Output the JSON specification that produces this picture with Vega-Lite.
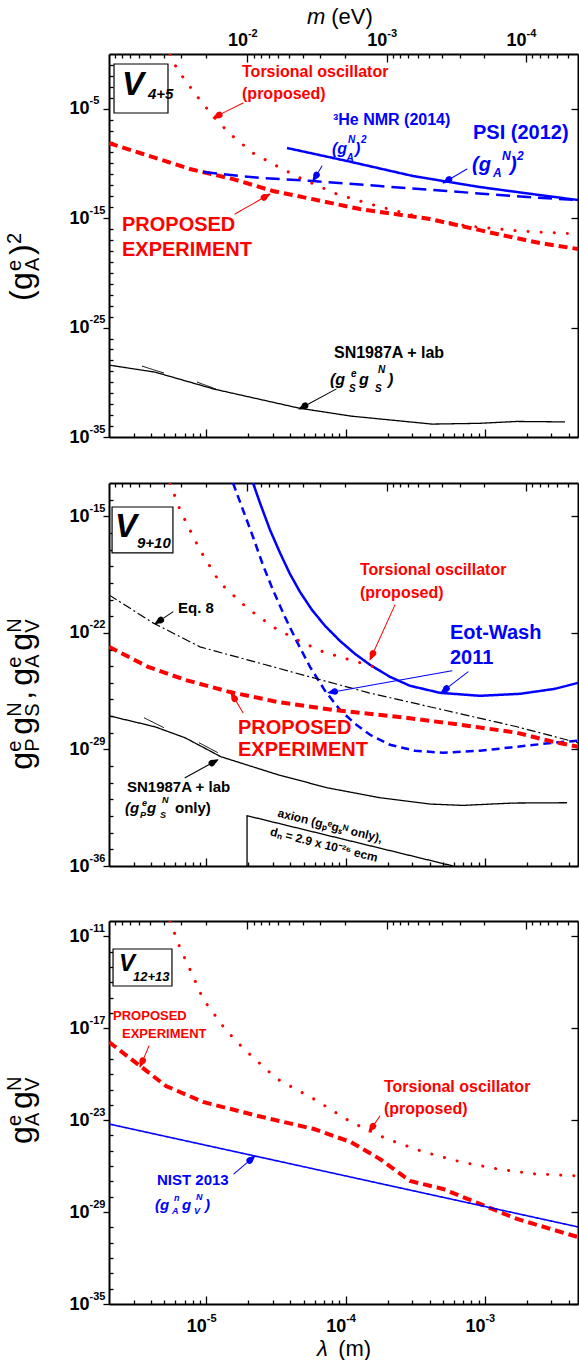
{
  "$schema": "https://vega.github.io/schema/vega-lite/v6.json",
  "background": "white",
  "padding": {"left": 5, "top": 5, "right": 0, "bottom": 0},
  "config": {
    "view": {"stroke": null},
    "axis": {"grid": false, "domainColor": "#000000", "domainWidth": 2, "tickColor": "#000000", "tickWidth": 1.3, "labelColor": "#000000", "labelFont": "Liberation Sans", "labelFontWeight": "bold", "labelFlush": false, "labelOverlap": false, "labelBound": false}
  },
  "datasets": {
    "curves": [
      {"p":1,"s":"torsional","id":"p1t","lx":-5.261,"ly":0},{"p":1,"s":"torsional","id":"p1t","lx":-5.211,"ly":-1.371},{"p":1,"s":"torsional","id":"p1t","lx":-5.132,"ly":-2.742},{"p":1,"s":"torsional","id":"p1t","lx":-5.046,"ly":-4.205},{"p":1,"s":"torsional","id":"p1t","lx":-4.952,"ly":-5.67},{"p":1,"s":"torsional","id":"p1t","lx":-4.83,"ly":-7.31},{"p":1,"s":"torsional","id":"p1t","lx":-4.665,"ly":-9.05},{"p":1,"s":"torsional","id":"p1t","lx":-4.493,"ly":-10.24},{"p":1,"s":"torsional","id":"p1t","lx":-4.328,"ly":-11.33},{"p":1,"s":"torsional","id":"p1t","lx":-4.062,"ly":-12.8},{"p":1,"s":"torsional","id":"p1t","lx":-3.775,"ly":-13.89},{"p":1,"s":"torsional","id":"p1t","lx":-3.466,"ly":-14.9},{"p":1,"s":"torsional","id":"p1t","lx":-3.129,"ly":-15.72},{"p":1,"s":"torsional","id":"p1t","lx":-2.749,"ly":-16.18},{"p":1,"s":"torsional","id":"p1t","lx":-2.332,"ly":-16.45},
      {"p":1,"s":"proposed","id":"p1p","lx":-5.699,"ly":-8.14},{"p":1,"s":"proposed","id":"p1p","lx":-5.455,"ly":-9.14},{"p":1,"s":"proposed","id":"p1p","lx":-5.118,"ly":-10.51},{"p":1,"s":"proposed","id":"p1p","lx":-4.809,"ly":-11.43},{"p":1,"s":"proposed","id":"p1p","lx":-4.522,"ly":-12.52},{"p":1,"s":"proposed","id":"p1p","lx":-4.278,"ly":-13.16},{"p":1,"s":"proposed","id":"p1p","lx":-3.897,"ly":-14.17},{"p":1,"s":"proposed","id":"p1p","lx":-3.395,"ly":-15.08},{"p":1,"s":"proposed","id":"p1p","lx":-2.914,"ly":-16.45},{"p":1,"s":"proposed","id":"p1p","lx":-2.605,"ly":-17.28},{"p":1,"s":"proposed","id":"p1p","lx":-2.332,"ly":-17.82},
      {"p":1,"s":"nmr","id":"p1n","lx":-5.024,"ly":-10.79},{"p":1,"s":"nmr","id":"p1n","lx":-4.615,"ly":-11.33},{"p":1,"s":"nmr","id":"p1n","lx":-4.235,"ly":-11.61},{"p":1,"s":"nmr","id":"p1n","lx":-3.754,"ly":-12.07},{"p":1,"s":"nmr","id":"p1n","lx":-3.273,"ly":-12.52},{"p":1,"s":"nmr","id":"p1n","lx":-2.799,"ly":-12.98},{"p":1,"s":"nmr","id":"p1n","lx":-2.332,"ly":-13.36},
      {"p":1,"s":"psi","id":"p1s","lx":-4.421,"ly":-8.59},{"p":1,"s":"psi","id":"p1s","lx":-3.99,"ly":-9.78},{"p":1,"s":"psi","id":"p1s","lx":-3.517,"ly":-11.15},{"p":1,"s":"psi","id":"p1s","lx":-3.036,"ly":-12.16},{"p":1,"s":"psi","id":"p1s","lx":-2.555,"ly":-12.98},{"p":1,"s":"psi","id":"p1s","lx":-2.332,"ly":-13.34},
      {"p":1,"s":"sn","id":"p1sn","lx":-5.699,"ly":-28.43},{"p":1,"s":"sn","id":"p1sn","lx":-5.369,"ly":-29.07},{"p":1,"s":"sn","id":"p1sn","lx":-4.945,"ly":-30.62},{"p":1,"s":"sn","id":"p1sn","lx":-4.335,"ly":-32.36},{"p":1,"s":"sn","id":"p1sn","lx":-3.962,"ly":-33.09},{"p":1,"s":"sn","id":"p1sn","lx":-3.38,"ly":-33.82},{"p":1,"s":"sn","id":"p1sn","lx":-3.036,"ly":-33.75},{"p":1,"s":"sn","id":"p1sn","lx":-2.77,"ly":-33.58},{"p":1,"s":"sn","id":"p1sn","lx":-2.425,"ly":-33.62},
      {"p":1,"s":"fold","id":"p1f1","lx":-5.462,"ly":-28.52},{"p":1,"s":"fold","id":"p1f1","lx":-5.304,"ly":-29.16},
      {"p":1,"s":"fold","id":"p1f2","lx":-5.067,"ly":-29.98},{"p":1,"s":"fold","id":"p1f2","lx":-4.931,"ly":-30.62},
      {"p":2,"s":"torsional","id":"p2t","lx":-5.261,"ly":-13.0},{"p":2,"s":"torsional","id":"p2t","lx":-5.189,"ly":-14.62},{"p":2,"s":"torsional","id":"p2t","lx":-5.118,"ly":-15.82},{"p":2,"s":"torsional","id":"p2t","lx":-5.046,"ly":-17.02},{"p":2,"s":"torsional","id":"p2t","lx":-4.902,"ly":-19.0},{"p":2,"s":"torsional","id":"p2t","lx":-4.708,"ly":-20.5},{"p":2,"s":"torsional","id":"p2t","lx":-4.522,"ly":-21.64},{"p":2,"s":"torsional","id":"p2t","lx":-4.349,"ly":-22.42},{"p":2,"s":"torsional","id":"p2t","lx":-4.163,"ly":-23.14},{"p":2,"s":"torsional","id":"p2t","lx":-3.969,"ly":-23.62},{"p":2,"s":"torsional","id":"p2t","lx":-3.768,"ly":-24.1},
      {"p":2,"s":"ew_dash","id":"p2ed","lx":-4.809,"ly":-13.0},{"p":2,"s":"ew_dash","id":"p2ed","lx":-4.737,"ly":-14.62},{"p":2,"s":"ew_dash","id":"p2ed","lx":-4.665,"ly":-16.24},{"p":2,"s":"ew_dash","id":"p2ed","lx":-4.594,"ly":-17.919},{"p":2,"s":"ew_dash","id":"p2ed","lx":-4.522,"ly":-19.419},{"p":2,"s":"ew_dash","id":"p2ed","lx":-4.436,"ly":-21.039},{"p":2,"s":"ew_dash","id":"p2ed","lx":-4.349,"ly":-22.539},{"p":2,"s":"ew_dash","id":"p2ed","lx":-4.256,"ly":-24.039},{"p":2,"s":"ew_dash","id":"p2ed","lx":-4.148,"ly":-25.479},{"p":2,"s":"ew_dash","id":"p2ed","lx":-4.041,"ly":-26.619},{"p":2,"s":"ew_dash","id":"p2ed","lx":-3.933,"ly":-27.459},{"p":2,"s":"ew_dash","id":"p2ed","lx":-3.825,"ly":-28.119},{"p":2,"s":"ew_dash","id":"p2ed","lx":-3.682,"ly":-28.719},{"p":2,"s":"ew_dash","id":"p2ed","lx":-3.502,"ly":-29.079},{"p":2,"s":"ew_dash","id":"p2ed","lx":-3.301,"ly":-29.199},{"p":2,"s":"ew_dash","id":"p2ed","lx":-3.036,"ly":-29.079},{"p":2,"s":"ew_dash","id":"p2ed","lx":-2.77,"ly":-28.839},{"p":2,"s":"ew_dash","id":"p2ed","lx":-2.512,"ly":-28.599},{"p":2,"s":"ew_dash","id":"p2ed","lx":-2.332,"ly":-28.479},
      {"p":2,"s":"ew_solid","id":"p2es","lx":-4.665,"ly":-13.0},{"p":2,"s":"ew_solid","id":"p2es","lx":-4.615,"ly":-14.2},{"p":2,"s":"ew_solid","id":"p2es","lx":-4.543,"ly":-15.82},{"p":2,"s":"ew_solid","id":"p2es","lx":-4.471,"ly":-17.2},{"p":2,"s":"ew_solid","id":"p2es","lx":-4.4,"ly":-18.46},{"p":2,"s":"ew_solid","id":"p2es","lx":-4.328,"ly":-19.54},{"p":2,"s":"ew_solid","id":"p2es","lx":-4.242,"ly":-20.62},{"p":2,"s":"ew_solid","id":"p2es","lx":-4.148,"ly":-21.58},{"p":2,"s":"ew_solid","id":"p2es","lx":-4.041,"ly":-22.48},{"p":2,"s":"ew_solid","id":"p2es","lx":-3.933,"ly":-23.26},{"p":2,"s":"ew_solid","id":"p2es","lx":-3.825,"ly":-23.92},{"p":2,"s":"ew_solid","id":"p2es","lx":-3.682,"ly":-24.64},{"p":2,"s":"ew_solid","id":"p2es","lx":-3.538,"ly":-25.18},{"p":2,"s":"ew_solid","id":"p2es","lx":-3.323,"ly":-25.6},{"p":2,"s":"ew_solid","id":"p2es","lx":-3.036,"ly":-25.78},{"p":2,"s":"ew_solid","id":"p2es","lx":-2.749,"ly":-25.66},{"p":2,"s":"ew_solid","id":"p2es","lx":-2.497,"ly":-25.36},{"p":2,"s":"ew_solid","id":"p2es","lx":-2.332,"ly":-25.0},
      {"p":2,"s":"eq8","id":"p2q","lx":-5.699,"ly":-19.72},{"p":2,"s":"eq8","id":"p2q","lx":-5.383,"ly":-21.4},{"p":2,"s":"eq8","id":"p2q","lx":-5.046,"ly":-22.84},{"p":2,"s":"eq8","id":"p2q","lx":-4.364,"ly":-24.4},{"p":2,"s":"eq8","id":"p2q","lx":-3.833,"ly":-25.6},{"p":2,"s":"eq8","id":"p2q","lx":-3.301,"ly":-26.62},{"p":2,"s":"eq8","id":"p2q","lx":-2.77,"ly":-27.64},{"p":2,"s":"eq8","id":"p2q","lx":-2.332,"ly":-28.6},
      {"p":2,"s":"proposed","id":"p2p","lx":-5.699,"ly":-22.84},{"p":2,"s":"proposed","id":"p2p","lx":-5.419,"ly":-24.04},{"p":2,"s":"proposed","id":"p2p","lx":-5.153,"ly":-24.82},{"p":2,"s":"proposed","id":"p2p","lx":-4.837,"ly":-25.54},{"p":2,"s":"proposed","id":"p2p","lx":-4.493,"ly":-26.14},{"p":2,"s":"proposed","id":"p2p","lx":-4.098,"ly":-26.62},{"p":2,"s":"proposed","id":"p2p","lx":-3.567,"ly":-27.1},{"p":2,"s":"proposed","id":"p2p","lx":-3.172,"ly":-27.52},{"p":2,"s":"proposed","id":"p2p","lx":-2.77,"ly":-28.0},{"p":2,"s":"proposed","id":"p2p","lx":-2.512,"ly":-28.54},{"p":2,"s":"proposed","id":"p2p","lx":-2.332,"ly":-28.84},
      {"p":2,"s":"sn","id":"p2sn","lx":-5.699,"ly":-26.98},{"p":2,"s":"sn","id":"p2sn","lx":-5.369,"ly":-27.64},{"p":2,"s":"sn","id":"p2sn","lx":-5.153,"ly":-28.3},{"p":2,"s":"sn","id":"p2sn","lx":-4.895,"ly":-29.44},{"p":2,"s":"sn","id":"p2sn","lx":-4.493,"ly":-30.5},{"p":2,"s":"sn","id":"p2sn","lx":-4.134,"ly":-31.3},{"p":2,"s":"sn","id":"p2sn","lx":-3.754,"ly":-31.9},{"p":2,"s":"sn","id":"p2sn","lx":-3.395,"ly":-32.28},{"p":2,"s":"sn","id":"p2sn","lx":-3.158,"ly":-32.36},{"p":2,"s":"sn","id":"p2sn","lx":-2.799,"ly":-32.22},{"p":2,"s":"sn","id":"p2sn","lx":-2.411,"ly":-32.2},
      {"p":2,"s":"fold","id":"p2f1","lx":-5.448,"ly":-27.097},{"p":2,"s":"fold","id":"p2f1","lx":-5.304,"ly":-27.697},
      {"p":2,"s":"fold","id":"p2f2","lx":-5.053,"ly":-28.597},{"p":2,"s":"fold","id":"p2f2","lx":-4.917,"ly":-29.197},
      {"p":2,"s":"axion","id":"p2a","lx":-4.708,"ly":-36.0},{"p":2,"s":"axion","id":"p2a","lx":-4.708,"ly":-32.98},{"p":2,"s":"axion","id":"p2a","lx":-3.229,"ly":-36.0},
      {"p":3,"s":"torsional","id":"p3t","lx":-5.261,"ly":-10.0},{"p":3,"s":"torsional","id":"p3t","lx":-5.189,"ly":-11.76},{"p":3,"s":"torsional","id":"p3t","lx":-5.103,"ly":-13.46},{"p":3,"s":"torsional","id":"p3t","lx":-5.024,"ly":-15.09},{"p":3,"s":"torsional","id":"p3t","lx":-4.866,"ly":-17.05},{"p":3,"s":"torsional","id":"p3t","lx":-4.73,"ly":-18.36},{"p":3,"s":"torsional","id":"p3t","lx":-4.493,"ly":-20.31},{"p":3,"s":"torsional","id":"p3t","lx":-4.227,"ly":-21.62},{"p":3,"s":"torsional","id":"p3t","lx":-3.962,"ly":-23.12},{"p":3,"s":"torsional","id":"p3t","lx":-3.703,"ly":-24.23},{"p":3,"s":"torsional","id":"p3t","lx":-3.438,"ly":-25.08},{"p":3,"s":"torsional","id":"p3t","lx":-3.172,"ly":-25.73},{"p":3,"s":"torsional","id":"p3t","lx":-2.907,"ly":-26.19},{"p":3,"s":"torsional","id":"p3t","lx":-2.641,"ly":-26.51},{"p":3,"s":"torsional","id":"p3t","lx":-2.332,"ly":-26.64},
      {"p":3,"s":"proposed","id":"p3p","lx":-5.699,"ly":-17.9},{"p":3,"s":"proposed","id":"p3p","lx":-5.476,"ly":-19.46},{"p":3,"s":"proposed","id":"p3p","lx":-5.29,"ly":-20.77},{"p":3,"s":"proposed","id":"p3p","lx":-5.024,"ly":-21.81},{"p":3,"s":"proposed","id":"p3p","lx":-4.629,"ly":-22.73},{"p":3,"s":"proposed","id":"p3p","lx":-4.227,"ly":-23.58},{"p":3,"s":"proposed","id":"p3p","lx":-3.962,"ly":-24.43},{"p":3,"s":"proposed","id":"p3p","lx":-3.754,"ly":-25.54},{"p":3,"s":"proposed","id":"p3p","lx":-3.538,"ly":-26.97},{"p":3,"s":"proposed","id":"p3p","lx":-3.301,"ly":-27.49},{"p":3,"s":"proposed","id":"p3p","lx":-3.036,"ly":-28.47},{"p":3,"s":"proposed","id":"p3p","lx":-2.77,"ly":-29.45},{"p":3,"s":"proposed","id":"p3p","lx":-2.332,"ly":-30.63},
      {"p":3,"s":"nist","id":"p3n","lx":-5.699,"ly":-23.25},{"p":3,"s":"nist","id":"p3n","lx":-2.332,"ly":-29.97}
    ],
    "arrows": [
      {"p":1,"id":"a1","grp":"torsional","pt":"tail","lx":-4.737,"ly":-4.479},{"p":1,"id":"a1","grp":"torsional","pt":"neck","lx":-4.901,"ly":-5.522},{"p":1,"id":"a1","grp":"torsional","pt":"base","lx":-4.907,"ly":-5.564},{"p":1,"id":"a1","grp":"torsional","pt":"tip","lx":-4.952,"ly":-5.85},
      {"p":1,"id":"a2","grp":"nmr","pt":"tail","lx":-4.17,"ly":-10.238},{"p":1,"id":"a2","grp":"nmr","pt":"neck","lx":-4.205,"ly":-10.982},{"p":1,"id":"a2","grp":"nmr","pt":"base","lx":-4.209,"ly":-11.061},{"p":1,"id":"a2","grp":"nmr","pt":"tip","lx":-4.235,"ly":-11.609},
      {"p":1,"id":"a3","grp":"psi","pt":"tail","lx":-3.129,"ly":-10.512},{"p":1,"id":"a3","grp":"psi","pt":"neck","lx":-3.251,"ly":-11.423},{"p":1,"id":"a3","grp":"psi","pt":"base","lx":-3.258,"ly":-11.469},{"p":1,"id":"a3","grp":"psi","pt":"tip","lx":-3.301,"ly":-11.792},
      {"p":1,"id":"a4","grp":"proposed","pt":"tail","lx":-4.795,"ly":-14.625},{"p":1,"id":"a4","grp":"proposed","pt":"neck","lx":-4.593,"ly":-13.16},{"p":1,"id":"a4","grp":"proposed","pt":"base","lx":-4.587,"ly":-13.115},{"p":1,"id":"a4","grp":"proposed","pt":"tip","lx":-4.543,"ly":-12.797},
      {"p":1,"id":"a5","grp":"sn","pt":"tail","lx":-4.069,"ly":-30.622},{"p":1,"id":"a5","grp":"sn","pt":"neck","lx":-4.284,"ly":-32.103},{"p":1,"id":"a5","grp":"sn","pt":"base","lx":-4.291,"ly":-32.146},{"p":1,"id":"a5","grp":"sn","pt":"tip","lx":-4.335,"ly":-32.45},
      {"p":2,"id":"b1","grp":"eq8","pt":"tail","lx":-5.24,"ly":-20.738},{"p":2,"id":"b1","grp":"eq8","pt":"neck","lx":-5.321,"ly":-21.192},{"p":2,"id":"b1","grp":"eq8","pt":"base","lx":-5.327,"ly":-21.225},{"p":2,"id":"b1","grp":"eq8","pt":"tip","lx":-5.369,"ly":-21.458},
      {"p":2,"id":"b2","grp":"torsional","pt":"tail","lx":-3.646,"ly":-20.319},{"p":2,"id":"b2","grp":"torsional","pt":"neck","lx":-3.801,"ly":-23.181},{"p":2,"id":"b2","grp":"torsional","pt":"base","lx":-3.804,"ly":-23.236},{"p":2,"id":"b2","grp":"torsional","pt":"tip","lx":-3.825,"ly":-23.618},
      {"p":2,"id":"b3","grp":"eotwash","pt":"tail","lx":-3.237,"ly":-24.278},{"p":2,"id":"b3","grp":"eotwash","pt":"neck","lx":-4.07,"ly":-25.514},{"p":2,"id":"b3","grp":"eotwash","pt":"base","lx":-4.078,"ly":-25.525},{"p":2,"id":"b3","grp":"eotwash","pt":"tip","lx":-4.127,"ly":-25.598},
      {"p":2,"id":"b4","grp":"eotwash","pt":"tail","lx":-3.122,"ly":-24.338},{"p":2,"id":"b4","grp":"eotwash","pt":"neck","lx":-3.271,"ly":-25.303},{"p":2,"id":"b4","grp":"eotwash","pt":"base","lx":-3.276,"ly":-25.34},{"p":2,"id":"b4","grp":"eotwash","pt":"tip","lx":-3.316,"ly":-25.598},
      {"p":2,"id":"b5","grp":"proposed","pt":"tail","lx":-4.737,"ly":-26.797},{"p":2,"id":"b5","grp":"proposed","pt":"neck","lx":-4.793,"ly":-26.009},{"p":2,"id":"b5","grp":"proposed","pt":"base","lx":-4.797,"ly":-25.958},{"p":2,"id":"b5","grp":"proposed","pt":"tip","lx":-4.823,"ly":-25.598},
      {"p":2,"id":"b6","grp":"sn","pt":"tail","lx":-5.153,"ly":-30.697},{"p":2,"id":"b6","grp":"sn","pt":"neck","lx":-4.967,"ly":-29.847},{"p":2,"id":"b6","grp":"sn","pt":"base","lx":-4.961,"ly":-29.818},{"p":2,"id":"b6","grp":"sn","pt":"tip","lx":-4.917,"ly":-29.617},
      {"p":3,"id":"c1","grp":"proposed","pt":"tail","lx":-5.412,"ly":-18.159},{"p":3,"id":"c1","grp":"proposed","pt":"neck","lx":-5.454,"ly":-19.049},{"p":3,"id":"c1","grp":"proposed","pt":"base","lx":-5.457,"ly":-19.109},{"p":3,"id":"c1","grp":"proposed","pt":"tip","lx":-5.477,"ly":-19.53},
      {"p":3,"id":"c2","grp":"torsional","pt":"tail","lx":-3.754,"ly":-22.728},{"p":3,"id":"c2","grp":"torsional","pt":"neck","lx":-3.8,"ly":-23.342},{"p":3,"id":"c2","grp":"torsional","pt":"base","lx":-3.804,"ly":-23.396},{"p":3,"id":"c2","grp":"torsional","pt":"tip","lx":-3.833,"ly":-23.773},
      {"p":3,"id":"c3","grp":"nist","pt":"tail","lx":-4.802,"ly":-26.514},{"p":3,"id":"c3","grp":"nist","pt":"neck","lx":-4.695,"ly":-25.678},{"p":3,"id":"c3","grp":"nist","pt":"base","lx":-4.689,"ly":-25.636},{"p":3,"id":"c3","grp":"nist","pt":"tip","lx":-4.651,"ly":-25.339}
    ],
    "tags": [
      {"p":1,"lx":-5.663,"lx2":-5.2755,"ly":-0.914,"ly2":-5.393},
      {"p":2,"lx":-5.677,"lx2":-5.24,"ly":-14.44,"ly2":-17.199},
      {"p":3,"lx":-5.67,"lx2":-5.247,"ly":-11.828,"ly2":-14.243}
    ],
    "notes": [
      {"p":1,"grp":"torsional","role":"note","txt":"Torsional oscillator","lx":-4.744,"ly":-1.645},
      {"p":1,"grp":"torsional","role":"note","txt":"(proposed)","lx":-4.744,"ly":-3.656},
      {"p":1,"grp":"nmr","role":"note","txt":"³He NMR (2014)","lx":-4.091,"ly":-6.033},
      {"p":1,"grp":"psi","role":"headline","txt":"PSI (2012)","lx":-3.086,"ly":-7.221},
      {"p":1,"grp":"proposed","role":"headline","txt":"PROPOSED","lx":-5.606,"ly":-15.631},
      {"p":1,"grp":"proposed","role":"headline","txt":"EXPERIMENT","lx":-5.606,"ly":-17.916},
      {"p":1,"grp":"sn","role":"note","txt":"SN1987A + lab","lx":-4.084,"ly":-27.331},
      {"p":2,"grp":"eq8","role":"minor_note","txt":"Eq. 8","lx":-5.2037,"ly":-20.499},
      {"p":2,"grp":"torsional","role":"note","txt":"Torsional oscillator","lx":-3.897,"ly":-18.219},
      {"p":2,"grp":"torsional","role":"note","txt":"(proposed)","lx":-3.897,"ly":-19.599},
      {"p":2,"grp":"eotwash","role":"headline","txt":"Eot-Wash","lx":-3.251,"ly":-22.028},
      {"p":2,"grp":"eotwash","role":"headline","txt":"2011","lx":-3.251,"ly":-23.498},
      {"p":2,"grp":"proposed","role":"headline","txt":"PROPOSED","lx":-4.773,"ly":-27.727},
      {"p":2,"grp":"proposed","role":"headline","txt":"EXPERIMENT","lx":-4.773,"ly":-29.047},
      {"p":2,"grp":"sn","role":"minor_note","txt":"SN1987A + lab","lx":-5.57,"ly":-31.236},
      {"p":2,"grp":"sn","role":"minor_note","txt":"only)","lx":-5.225,"ly":-32.496},
      {"p":3,"grp":"proposed","role":"small_headline","txt":"PROPOSED","lx":-5.67,"ly":-16.201},
      {"p":3,"grp":"proposed","role":"small_headline","txt":"EXPERIMENT","lx":-5.606,"ly":-17.376},
      {"p":3,"grp":"torsional","role":"note","txt":"Torsional oscillator","lx":-3.725,"ly":-20.803},
      {"p":3,"grp":"torsional","role":"note","txt":"(proposed)","lx":-3.725,"ly":-22.272},
      {"p":3,"grp":"nist","role":"minor_note","txt":"NIST 2013","lx":-5.3544,"ly":-26.906}
    ],
    "parts": [
      {"p":1,"grp":"nmr","role":"formula","txt":"(g","lx":-4.098,"ly":-8.684},
      {"p":1,"grp":"nmr","role":"script","txt":"A","lx":-3.994,"ly":-9.461},
      {"p":1,"grp":"nmr","role":"script","txt":"N","lx":-3.983,"ly":-7.815},
      {"p":1,"grp":"nmr","role":"formula","txt":")","lx":-3.933,"ly":-8.684},
      {"p":1,"grp":"nmr","role":"script","txt":"2","lx":-3.89,"ly":-7.815},
      {"p":1,"grp":"psi","role":"big_formula","txt":"(g","lx":-3.093,"ly":-10.146},
      {"p":1,"grp":"psi","role":"big_script","txt":"A","lx":-2.942,"ly":-10.877},
      {"p":1,"grp":"psi","role":"big_script","txt":"N","lx":-2.878,"ly":-9.324},
      {"p":1,"grp":"psi","role":"big_formula","txt":")","lx":-2.82,"ly":-10.146},
      {"p":1,"grp":"psi","role":"big_script","txt":"2","lx":-2.77,"ly":-9.324},
      {"p":1,"grp":"sn","role":"formula","txt":"(g","lx":-4.1125,"ly":-29.799},
      {"p":1,"grp":"sn","role":"script","txt":"S","lx":-3.976,"ly":-30.622},
      {"p":1,"grp":"sn","role":"script","txt":"e","lx":-3.962,"ly":-29.25},
      {"p":1,"grp":"sn","role":"formula","txt":"g","lx":-3.904,"ly":-29.799},
      {"p":1,"grp":"sn","role":"script","txt":"S","lx":-3.789,"ly":-30.622},
      {"p":1,"grp":"sn","role":"script","txt":"N","lx":-3.768,"ly":-28.885},
      {"p":1,"grp":"sn","role":"formula","txt":")","lx":-3.696,"ly":-29.799},
      {"p":1,"grp":"frame","role":"tag","txt":"V","lx":-5.606,"ly":-2.834},
      {"p":1,"grp":"frame","role":"tag_script","txt":"4+5","lx":-5.419,"ly":-3.656},
      {"p":2,"grp":"sn","role":"mid_formula","txt":"(g","lx":-5.584,"ly":-32.496},
      {"p":2,"grp":"sn","role":"mid_script","txt":"P","lx":-5.4765,"ly":-32.916},
      {"p":2,"grp":"sn","role":"mid_script","txt":"e","lx":-5.462,"ly":-32.196},
      {"p":2,"grp":"sn","role":"mid_formula","txt":"g","lx":-5.426,"ly":-32.496},
      {"p":2,"grp":"sn","role":"mid_script","txt":"S","lx":-5.333,"ly":-32.916},
      {"p":2,"grp":"sn","role":"mid_script","txt":"N","lx":-5.3185,"ly":-32.016},
      {"p":2,"grp":"frame","role":"tag","txt":"V","lx":-5.6559,"ly":-15.64},
      {"p":2,"grp":"frame","role":"tag_script","txt":"9+10","lx":-5.498,"ly":-16.599},
      {"p":3,"grp":"nist","role":"mid_formula","txt":"(g","lx":-5.3688,"ly":-28.538},
      {"p":3,"grp":"nist","role":"mid_script","txt":"A","lx":-5.2467,"ly":-28.93},
      {"p":3,"grp":"nist","role":"mid_script","txt":"n","lx":-5.2324,"ly":-28.091},
      {"p":3,"grp":"nist","role":"mid_formula","txt":"g","lx":-5.175,"ly":-28.538},
      {"p":3,"grp":"nist","role":"mid_script","txt":"V","lx":-5.0888,"ly":-28.93},
      {"p":3,"grp":"nist","role":"mid_script","txt":"N","lx":-5.0745,"ly":-28.026},
      {"p":3,"grp":"nist","role":"mid_formula","txt":")","lx":-5.0098,"ly":-28.538},
      {"p":3,"grp":"frame","role":"small_tag","txt":"V","lx":-5.6272,"ly":-12.807},
      {"p":3,"grp":"frame","role":"small_tag_script","txt":"12+13","lx":-5.5267,"ly":-13.655}
    ],
    "ytitles": [
      {"p":1,"role":"title","txt":"(","lx":-6.2518,"ly":-22.578},
      {"p":1,"role":"title","txt":"g","lx":-6.2518,"ly":-21.572},
      {"p":1,"role":"title_script","txt":"A","lx":-6.2015,"ly":-19.835},
      {"p":1,"role":"title_script","txt":"e","lx":-6.3307,"ly":-19.835},
      {"p":1,"role":"title","txt":")","lx":-6.2518,"ly":-18.373},
      {"p":1,"role":"title_script","txt":"2","lx":-6.3307,"ly":-17.367},
      {"p":2,"role":"title","txt":"g","lx":-6.2518,"ly":-30.217},
      {"p":2,"role":"title_script","txt":"P","lx":-6.2015,"ly":-29.137},
      {"p":2,"role":"title_script","txt":"e","lx":-6.3307,"ly":-29.137},
      {"p":2,"role":"title","txt":"g","lx":-6.2518,"ly":-28.117},
      {"p":2,"role":"title_script","txt":"S","lx":-6.2015,"ly":-27.037},
      {"p":2,"role":"title_script","txt":"N","lx":-6.3307,"ly":-27.037},
      {"p":2,"role":"title","txt":",","lx":-6.2518,"ly":-26.017},
      {"p":2,"role":"title","txt":"g","lx":-6.2518,"ly":-25.177},
      {"p":2,"role":"title_script","txt":"A","lx":-6.2015,"ly":-24.097},
      {"p":2,"role":"title_script","txt":"e","lx":-6.3307,"ly":-24.097},
      {"p":2,"role":"title","txt":"g","lx":-6.2518,"ly":-23.077},
      {"p":2,"role":"title_script","txt":"V","lx":-6.2015,"ly":-21.998},
      {"p":2,"role":"title_script","txt":"N","lx":-6.3307,"ly":-21.998},
      {"p":3,"role":"title","txt":"g","lx":-6.2518,"ly":-24.556},
      {"p":3,"role":"title_script","txt":"A","lx":-6.2015,"ly":-23.381},
      {"p":3,"role":"title_script","txt":"e","lx":-6.3307,"ly":-23.381},
      {"p":3,"role":"title","txt":"g","lx":-6.2518,"ly":-22.272},
      {"p":3,"role":"title_script","txt":"V","lx":-6.2015,"ly":-21.097},
      {"p":3,"role":"title_script","txt":"N","lx":-6.3307,"ly":-21.097}
    ],
    "titles_roman": [
      {"p":1,"role":"axis_title","txt":"(eV)","lx":-4.104,"ly":3.382},
      {"p":3,"role":"axis_title","txt":"(m)","lx":-4.054,"ly":-37.937}
    ],
    "titles_italic": [
      {"p":1,"role":"axis_title","txt":"m","lx":-4.278,"ly":3.382},
      {"p":3,"role":"axis_title","txt":"λ","lx":-4.206,"ly":-37.937}
    ],
    "axion_notes": [
      {"p":2,"txt":"axion (gₚᵉgₛᴺ only),","lx":-4.1125,"ly":-33.576},
      {"p":2,"txt":"dₙ = 2.9 x 10⁻²⁶ ecm","lx":-4.1556,"ly":-34.716}
    ]
  },
  "spacing": 36,
  "vconcat": [
    {
      "width": 469, "height": 383,
      "resolve": {"axis": {"x": "independent", "y": "independent"}},
      "layer": [
        {
          "data": {"name": "curves"},
          "transform": [{"filter": "datum.p == 1 && datum.s != 'torsional'"}],
          "mark": {"type": "line", "strokeCap": "butt", "clip": true},
          "encoding": {
            "x": {"field": "lx", "type": "quantitative", "scale": {"type": "linear", "domain": [-5.699, -2.332], "nice": false, "zero": false}, "axis": {"orient": "bottom", "values": [-5, -4, -3], "tickSize": -8, "labels": false, "title": null}},
            "y": {"field": "ly", "type": "quantitative", "scale": {"type": "linear", "domain": [-35, 0], "nice": false, "zero": false}, "axis": {"orient": "left", "values": [-5, -15, -25, -35], "tickSize": 6, "labelExpr": "'10'", "labelAlign": "right", "labelBaseline": "middle", "labelFontSize": 18, "labelPadding": 14, "title": null}},
            "detail": {"field": "id"},
            "color": {"field": "s", "type": "nominal", "legend": null, "scale": {"domain": ["torsional","proposed","nmr","psi","ew_dash","ew_solid","eotwash","sn","eq8","axion","nist","fold","frame"], "range": ["#ff0000","#ff0000","#0000ff","#0000ff","#0000ff","#0000ff","#0000ff","#000000","#000000","#000000","#0000ff","#000000","#000000"]}},
            "strokeDash": {"field": "s", "type": "nominal", "legend": null, "scale": {"domain": ["proposed","nmr","psi","ew_dash","ew_solid","sn","eq8","axion","nist","fold"], "range": [[9,5],[14,7],[1,0],[8,5],[1,0],[1,0],[9,3,2,3],[1,0],[1,0],[1,0]]}},
            "strokeWidth": {"field": "s", "type": "nominal", "legend": null, "scale": {"type": "ordinal", "domain": ["proposed","nmr","psi","ew_dash","ew_solid","sn","eq8","axion","nist","fold"], "range": [4,2.5,2.5,2.5,2.5,1.3,1.2,1.3,1.6,1]}}
          }
        },
        {
          "data": {"name": "curves"},
          "transform": [{"filter": "datum.p == 1 && datum.s == 'torsional'"}],
          "mark": {"type": "line", "strokeCap": "round", "strokeDash": [0.1, 13], "strokeWidth": 3, "color": "#ff0000", "clip": true},
          "encoding": {
            "x": {"field": "lx", "type": "quantitative", "scale": {"type": "linear", "domain": [-5.699, -2.332], "nice": false, "zero": false}, "axis": null},
            "y": {"field": "ly", "type": "quantitative", "scale": {"type": "linear", "domain": [-35, 0], "nice": false, "zero": false}, "axis": {"orient": "left", "values": [-5, -15, -25, -35], "ticks": false, "domain": false, "labelExpr": "'-' + abs(datum.value)", "labelAlign": "left", "labelBaseline": "middle", "labelFontSize": 11, "labelPadding": 20, "labelOffset": -8, "title": null}}
          }
        },
        {
          "data": {"name": "arrows"},
          "transform": [{"filter": "datum.p == 1"}],
          "mark": {"type": "trail"},
          "encoding": {
            "x": {"field": "lx", "type": "quantitative", "scale": {"type": "linear", "domain": [-5.699, -2.332], "nice": false, "zero": false}, "axis": {"orient": "bottom", "values": [-5.523,-5.398,-5.301,-5.222,-5.155,-5.097,-5.046,-4.699,-4.523,-4.398,-4.301,-4.222,-4.155,-4.097,-4.046,-3.699,-3.523,-3.398,-3.301,-3.222,-3.155,-3.097,-3.046,-2.699,-2.523,-2.398], "tickSize": -4, "labels": false, "domain": false, "title": null}},
            "y": {"field": "ly", "type": "quantitative", "scale": {"type": "linear", "domain": [-35, 0], "nice": false, "zero": false}, "axis": {"orient": "left", "values": [-34,-33,-32,-31,-30,-29,-28,-27,-26,-24,-23,-22,-21,-20,-19,-18,-17,-16,-14,-13,-12,-11,-10,-9,-8,-7,-6,-4,-3,-2,-1], "tickSize": -4, "labels": false, "domain": false, "title": null}},
            "detail": {"field": "id"},
            "color": {"field": "grp", "type": "nominal", "legend": null, "scale": {"domain": ["torsional","proposed","nmr","psi","ew_dash","ew_solid","eotwash","sn","eq8","axion","nist","fold","frame"], "range": ["#ff0000","#ff0000","#0000ff","#0000ff","#0000ff","#0000ff","#0000ff","#000000","#000000","#000000","#0000ff","#000000","#000000"]}},
            "size": {"field": "pt", "type": "nominal", "legend": null, "scale": {"type": "ordinal", "domain": ["note","minor_note","headline","small_headline","formula","script","big_formula","big_script","mid_formula","mid_script","tag","tag_script","small_tag","small_tag_script","title","title_script","axis_title","tail","neck","base","tip"], "range": [16,15,20,13,16,10,20,12,15,9,33,15,24,13,32,20,22,1,1,6.5,0]}}
          }
        },
        {
          "data": {"name": "tags"},
          "transform": [{"filter": "datum.p == 1"}],
          "mark": {"type": "rect", "fill": "white", "stroke": "black", "strokeWidth": 1.2},
          "encoding": {
            "x": {"field": "lx", "type": "quantitative", "scale": {"type": "linear", "domain": [-5.699, -2.332], "nice": false, "zero": false}, "axis": {"orient": "top", "values": [-4.705, -3.705, -2.705], "tickSize": -8, "labelExpr": "'10'", "labelAlign": "right", "labelBaseline": "bottom", "labelFontSize": 18, "labelPadding": 13, "title": null}},
            "x2": {"field": "lx2"},
            "y": {"field": "ly", "type": "quantitative", "scale": {"type": "linear", "domain": [-35, 0], "nice": false, "zero": false}, "axis": {"orient": "right", "values": [-5, -15, -25, -35], "tickSize": -7, "labels": false, "title": null}},
            "y2": {"field": "ly2"}
          }
        },
        {
          "data": {"name": "notes"},
          "transform": [{"filter": "datum.p == 1"}],
          "mark": {"type": "text", "font": "Liberation Sans", "fontWeight": "bold", "align": "left", "baseline": "middle"},
          "encoding": {
            "x": {"field": "lx", "type": "quantitative", "scale": {"type": "linear", "domain": [-5.699, -2.332], "nice": false, "zero": false}, "axis": {"orient": "top", "values": [-5.659,-5.608,-5.55,-5.483,-5.404,-5.307,-5.182,-5.006,-4.659,-4.608,-4.55,-4.483,-4.404,-4.307,-4.182,-4.006,-3.659,-3.608,-3.55,-3.483,-3.404,-3.307,-3.182,-3.006,-2.659,-2.608,-2.55,-2.483,-2.404], "tickSize": -4, "labels": false, "domain": false, "title": null}},
            "y": {"field": "ly", "type": "quantitative", "scale": {"type": "linear", "domain": [-35, 0], "nice": false, "zero": false}, "axis": null},
            "text": {"field": "txt"},
            "color": {"field": "grp", "type": "nominal", "legend": null, "scale": {"domain": ["torsional","proposed","nmr","psi","ew_dash","ew_solid","eotwash","sn","eq8","axion","nist","fold","frame"], "range": ["#ff0000","#ff0000","#0000ff","#0000ff","#0000ff","#0000ff","#0000ff","#000000","#000000","#000000","#0000ff","#000000","#000000"]}},
            "size": {"field": "role", "type": "nominal", "legend": null, "scale": {"type": "ordinal", "domain": ["note","minor_note","headline","small_headline","formula","script","big_formula","big_script","mid_formula","mid_script","tag","tag_script","small_tag","small_tag_script","title","title_script","axis_title","tail","neck","base","tip"], "range": [16,15,20,13,16,10,20,12,15,9,33,15,24,13,32,20,22,1,1,6.5,0]}}
          }
        },
        {
          "data": {"name": "parts"},
          "transform": [{"filter": "datum.p == 1"}],
          "mark": {"type": "text", "font": "Liberation Sans", "fontWeight": "bold", "fontStyle": "italic", "align": "left", "baseline": "middle"},
          "encoding": {
            "x": {"field": "lx", "type": "quantitative", "scale": {"type": "linear", "domain": [-5.699, -2.332], "nice": false, "zero": false}, "axis": {"orient": "top", "values": [-4.705, -3.705, -2.705], "ticks": false, "domain": false, "labelExpr": "datum.value < -4 ? '-2' : datum.value < -3 ? '-3' : '-4'", "labelAlign": "left", "labelBaseline": "bottom", "labelFontSize": 11, "labelPadding": 16, "title": null}},
            "y": {"field": "ly", "type": "quantitative", "scale": {"type": "linear", "domain": [-35, 0], "nice": false, "zero": false}, "axis": null},
            "text": {"field": "txt"},
            "color": {"field": "grp", "type": "nominal", "legend": null, "scale": {"domain": ["torsional","proposed","nmr","psi","ew_dash","ew_solid","eotwash","sn","eq8","axion","nist","fold","frame"], "range": ["#ff0000","#ff0000","#0000ff","#0000ff","#0000ff","#0000ff","#0000ff","#000000","#000000","#000000","#0000ff","#000000","#000000"]}},
            "size": {"field": "role", "type": "nominal", "legend": null, "scale": {"type": "ordinal", "domain": ["note","minor_note","headline","small_headline","formula","script","big_formula","big_script","mid_formula","mid_script","tag","tag_script","small_tag","small_tag_script","title","title_script","axis_title","tail","neck","base","tip"], "range": [16,15,20,13,16,10,20,12,15,9,33,15,24,13,32,20,22,1,1,6.5,0]}}
          }
        },
        {
          "data": {"name": "ytitles"},
          "transform": [{"filter": "datum.p == 1"}],
          "mark": {"type": "text", "font": "Liberation Sans", "angle": 270, "align": "left", "baseline": "alphabetic", "color": "#000000"},
          "encoding": {
            "x": {"field": "lx", "type": "quantitative", "scale": {"type": "linear", "domain": [-5.699, -2.332], "nice": false, "zero": false}, "axis": null},
            "y": {"field": "ly", "type": "quantitative", "scale": {"type": "linear", "domain": [-35, 0], "nice": false, "zero": false}, "axis": null},
            "text": {"field": "txt"},
            "size": {"field": "role", "type": "nominal", "legend": null, "scale": {"type": "ordinal", "domain": ["note","minor_note","headline","small_headline","formula","script","big_formula","big_script","mid_formula","mid_script","tag","tag_script","small_tag","small_tag_script","title","title_script","axis_title","tail","neck","base","tip"], "range": [16,15,20,13,16,10,20,12,15,9,33,15,24,13,32,20,22,1,1,6.5,0]}}
          }
        },
        {
          "data": {"name": "titles_roman"},
          "transform": [{"filter": "datum.p == 1"}],
          "mark": {"type": "text", "font": "Liberation Sans", "align": "left", "baseline": "middle", "color": "#000000"},
          "encoding": {
            "x": {"field": "lx", "type": "quantitative", "scale": {"type": "linear", "domain": [-5.699, -2.332], "nice": false, "zero": false}, "axis": null},
            "y": {"field": "ly", "type": "quantitative", "scale": {"type": "linear", "domain": [-35, 0], "nice": false, "zero": false}, "axis": null},
            "text": {"field": "txt"},
            "size": {"field": "role", "type": "nominal", "legend": null, "scale": {"type": "ordinal", "domain": ["note","minor_note","headline","small_headline","formula","script","big_formula","big_script","mid_formula","mid_script","tag","tag_script","small_tag","small_tag_script","title","title_script","axis_title","tail","neck","base","tip"], "range": [16,15,20,13,16,10,20,12,15,9,33,15,24,13,32,20,22,1,1,6.5,0]}}
          }
        },
        {
          "data": {"name": "titles_italic"},
          "transform": [{"filter": "datum.p == 1"}],
          "mark": {"type": "text", "font": "Liberation Sans", "fontStyle": "italic", "align": "left", "baseline": "middle", "color": "#000000"},
          "encoding": {
            "x": {"field": "lx", "type": "quantitative", "scale": {"type": "linear", "domain": [-5.699, -2.332], "nice": false, "zero": false}, "axis": null},
            "y": {"field": "ly", "type": "quantitative", "scale": {"type": "linear", "domain": [-35, 0], "nice": false, "zero": false}, "axis": null},
            "text": {"field": "txt"},
            "size": {"field": "role", "type": "nominal", "legend": null, "scale": {"type": "ordinal", "domain": ["note","minor_note","headline","small_headline","formula","script","big_formula","big_script","mid_formula","mid_script","tag","tag_script","small_tag","small_tag_script","title","title_script","axis_title","tail","neck","base","tip"], "range": [16,15,20,13,16,10,20,12,15,9,33,15,24,13,32,20,22,1,1,6.5,0]}}
          }
        }
      ]
    },
    {
      "width": 469, "height": 383,
      "resolve": {"axis": {"x": "independent", "y": "independent"}},
      "layer": [
        {
          "data": {"name": "curves"},
          "transform": [{"filter": "datum.p == 2 && datum.s != 'torsional'"}],
          "mark": {"type": "line", "strokeCap": "butt", "clip": true},
          "encoding": {
            "x": {"field": "lx", "type": "quantitative", "scale": {"type": "linear", "domain": [-5.699, -2.332], "nice": false, "zero": false}, "axis": {"orient": "bottom", "values": [-5, -4, -3], "tickSize": -8, "labels": false, "title": null}},
            "y": {"field": "ly", "type": "quantitative", "scale": {"type": "linear", "domain": [-36, -13], "nice": false, "zero": false}, "axis": {"orient": "left", "values": [-15, -22, -29, -36], "tickSize": 6, "labelExpr": "'10'", "labelAlign": "right", "labelBaseline": "middle", "labelFontSize": 18, "labelPadding": 14, "title": null}},
            "detail": {"field": "id"},
            "color": {"field": "s", "type": "nominal", "legend": null, "scale": {"domain": ["torsional","proposed","nmr","psi","ew_dash","ew_solid","eotwash","sn","eq8","axion","nist","fold","frame"], "range": ["#ff0000","#ff0000","#0000ff","#0000ff","#0000ff","#0000ff","#0000ff","#000000","#000000","#000000","#0000ff","#000000","#000000"]}},
            "strokeDash": {"field": "s", "type": "nominal", "legend": null, "scale": {"domain": ["proposed","nmr","psi","ew_dash","ew_solid","sn","eq8","axion","nist","fold"], "range": [[9,5],[14,7],[1,0],[8,5],[1,0],[1,0],[9,3,2,3],[1,0],[1,0],[1,0]]}},
            "strokeWidth": {"field": "s", "type": "nominal", "legend": null, "scale": {"type": "ordinal", "domain": ["proposed","nmr","psi","ew_dash","ew_solid","sn","eq8","axion","nist","fold"], "range": [4,2.5,2.5,2.5,2.5,1.3,1.2,1.3,1.6,1]}}
          }
        },
        {
          "data": {"name": "curves"},
          "transform": [{"filter": "datum.p == 2 && datum.s == 'torsional'"}],
          "mark": {"type": "line", "strokeCap": "round", "strokeDash": [0.1, 13], "strokeWidth": 3, "color": "#ff0000", "clip": true},
          "encoding": {
            "x": {"field": "lx", "type": "quantitative", "scale": {"type": "linear", "domain": [-5.699, -2.332], "nice": false, "zero": false}, "axis": null},
            "y": {"field": "ly", "type": "quantitative", "scale": {"type": "linear", "domain": [-36, -13], "nice": false, "zero": false}, "axis": {"orient": "left", "values": [-15, -22, -29, -36], "ticks": false, "domain": false, "labelExpr": "'-' + abs(datum.value)", "labelAlign": "left", "labelBaseline": "middle", "labelFontSize": 11, "labelPadding": 20, "labelOffset": -8, "title": null}}
          }
        },
        {
          "data": {"name": "arrows"},
          "transform": [{"filter": "datum.p == 2"}],
          "mark": {"type": "trail"},
          "encoding": {
            "x": {"field": "lx", "type": "quantitative", "scale": {"type": "linear", "domain": [-5.699, -2.332], "nice": false, "zero": false}, "axis": {"orient": "bottom", "values": [-5.523,-5.398,-5.301,-5.222,-5.155,-5.097,-5.046,-4.699,-4.523,-4.398,-4.301,-4.222,-4.155,-4.097,-4.046,-3.699,-3.523,-3.398,-3.301,-3.222,-3.155,-3.097,-3.046,-2.699,-2.523,-2.398], "tickSize": -4, "labels": false, "domain": false, "title": null}},
            "y": {"field": "ly", "type": "quantitative", "scale": {"type": "linear", "domain": [-36, -13], "nice": false, "zero": false}, "axis": {"orient": "left", "values": [-35,-34,-33,-32,-31,-30,-28,-27,-26,-25,-24,-23,-21,-20,-19,-18,-17,-16,-14], "tickSize": -4, "labels": false, "domain": false, "title": null}},
            "detail": {"field": "id"},
            "color": {"field": "grp", "type": "nominal", "legend": null, "scale": {"domain": ["torsional","proposed","nmr","psi","ew_dash","ew_solid","eotwash","sn","eq8","axion","nist","fold","frame"], "range": ["#ff0000","#ff0000","#0000ff","#0000ff","#0000ff","#0000ff","#0000ff","#000000","#000000","#000000","#0000ff","#000000","#000000"]}},
            "size": {"field": "pt", "type": "nominal", "legend": null, "scale": {"type": "ordinal", "domain": ["note","minor_note","headline","small_headline","formula","script","big_formula","big_script","mid_formula","mid_script","tag","tag_script","small_tag","small_tag_script","title","title_script","axis_title","tail","neck","base","tip"], "range": [16,15,20,13,16,10,20,12,15,9,33,15,24,13,32,20,22,1,1,6.5,0]}}
          }
        },
        {
          "data": {"name": "tags"},
          "transform": [{"filter": "datum.p == 2"}],
          "mark": {"type": "rect", "fill": "white", "stroke": "black", "strokeWidth": 1.2},
          "encoding": {
            "x": {"field": "lx", "type": "quantitative", "scale": {"type": "linear", "domain": [-5.699, -2.332], "nice": false, "zero": false}, "axis": {"orient": "top", "values": [-4.705, -3.705, -2.705], "tickSize": -8, "labels": false, "title": null}},
            "x2": {"field": "lx2"},
            "y": {"field": "ly", "type": "quantitative", "scale": {"type": "linear", "domain": [-36, -13], "nice": false, "zero": false}, "axis": {"orient": "right", "values": [-15, -22, -29, -36], "tickSize": -7, "labels": false, "title": null}},
            "y2": {"field": "ly2"}
          }
        },
        {
          "data": {"name": "notes"},
          "transform": [{"filter": "datum.p == 2"}],
          "mark": {"type": "text", "font": "Liberation Sans", "fontWeight": "bold", "align": "left", "baseline": "middle"},
          "encoding": {
            "x": {"field": "lx", "type": "quantitative", "scale": {"type": "linear", "domain": [-5.699, -2.332], "nice": false, "zero": false}, "axis": {"orient": "top", "values": [-5.659,-5.608,-5.55,-5.483,-5.404,-5.307,-5.182,-5.006,-4.659,-4.608,-4.55,-4.483,-4.404,-4.307,-4.182,-4.006,-3.659,-3.608,-3.55,-3.483,-3.404,-3.307,-3.182,-3.006,-2.659,-2.608,-2.55,-2.483,-2.404], "tickSize": -4, "labels": false, "domain": false, "title": null}},
            "y": {"field": "ly", "type": "quantitative", "scale": {"type": "linear", "domain": [-36, -13], "nice": false, "zero": false}, "axis": null},
            "text": {"field": "txt"},
            "color": {"field": "grp", "type": "nominal", "legend": null, "scale": {"domain": ["torsional","proposed","nmr","psi","ew_dash","ew_solid","eotwash","sn","eq8","axion","nist","fold","frame"], "range": ["#ff0000","#ff0000","#0000ff","#0000ff","#0000ff","#0000ff","#0000ff","#000000","#000000","#000000","#0000ff","#000000","#000000"]}},
            "size": {"field": "role", "type": "nominal", "legend": null, "scale": {"type": "ordinal", "domain": ["note","minor_note","headline","small_headline","formula","script","big_formula","big_script","mid_formula","mid_script","tag","tag_script","small_tag","small_tag_script","title","title_script","axis_title","tail","neck","base","tip"], "range": [16,15,20,13,16,10,20,12,15,9,33,15,24,13,32,20,22,1,1,6.5,0]}}
          }
        },
        {
          "data": {"name": "parts"},
          "transform": [{"filter": "datum.p == 2"}],
          "mark": {"type": "text", "font": "Liberation Sans", "fontWeight": "bold", "fontStyle": "italic", "align": "left", "baseline": "middle"},
          "encoding": {
            "x": {"field": "lx", "type": "quantitative", "scale": {"type": "linear", "domain": [-5.699, -2.332], "nice": false, "zero": false}, "axis": null},
            "y": {"field": "ly", "type": "quantitative", "scale": {"type": "linear", "domain": [-36, -13], "nice": false, "zero": false}, "axis": null},
            "text": {"field": "txt"},
            "color": {"field": "grp", "type": "nominal", "legend": null, "scale": {"domain": ["torsional","proposed","nmr","psi","ew_dash","ew_solid","eotwash","sn","eq8","axion","nist","fold","frame"], "range": ["#ff0000","#ff0000","#0000ff","#0000ff","#0000ff","#0000ff","#0000ff","#000000","#000000","#000000","#0000ff","#000000","#000000"]}},
            "size": {"field": "role", "type": "nominal", "legend": null, "scale": {"type": "ordinal", "domain": ["note","minor_note","headline","small_headline","formula","script","big_formula","big_script","mid_formula","mid_script","tag","tag_script","small_tag","small_tag_script","title","title_script","axis_title","tail","neck","base","tip"], "range": [16,15,20,13,16,10,20,12,15,9,33,15,24,13,32,20,22,1,1,6.5,0]}}
          }
        },
        {
          "data": {"name": "ytitles"},
          "transform": [{"filter": "datum.p == 2"}],
          "mark": {"type": "text", "font": "Liberation Sans", "angle": 270, "align": "left", "baseline": "alphabetic", "color": "#000000"},
          "encoding": {
            "x": {"field": "lx", "type": "quantitative", "scale": {"type": "linear", "domain": [-5.699, -2.332], "nice": false, "zero": false}, "axis": null},
            "y": {"field": "ly", "type": "quantitative", "scale": {"type": "linear", "domain": [-36, -13], "nice": false, "zero": false}, "axis": null},
            "text": {"field": "txt"},
            "size": {"field": "role", "type": "nominal", "legend": null, "scale": {"type": "ordinal", "domain": ["note","minor_note","headline","small_headline","formula","script","big_formula","big_script","mid_formula","mid_script","tag","tag_script","small_tag","small_tag_script","title","title_script","axis_title","tail","neck","base","tip"], "range": [16,15,20,13,16,10,20,12,15,9,33,15,24,13,32,20,22,1,1,6.5,0]}}
          }
        },
        {
          "data": {"name": "axion_notes"},
          "transform": [{"filter": "datum.p == 2"}],
          "mark": {"type": "text", "font": "Liberation Sans", "fontWeight": "bold", "angle": 14, "align": "center", "baseline": "middle", "fontSize": 12, "color": "#000000"},
          "encoding": {
            "x": {"field": "lx", "type": "quantitative", "scale": {"type": "linear", "domain": [-5.699, -2.332], "nice": false, "zero": false}, "axis": null},
            "y": {"field": "ly", "type": "quantitative", "scale": {"type": "linear", "domain": [-36, -13], "nice": false, "zero": false}, "axis": null},
            "text": {"field": "txt"}
          }
        }
      ]
    },
    {
      "width": 469, "height": 383,
      "resolve": {"axis": {"x": "independent", "y": "independent"}},
      "layer": [
        {
          "data": {"name": "curves"},
          "transform": [{"filter": "datum.p == 3 && datum.s != 'torsional'"}],
          "mark": {"type": "line", "strokeCap": "butt", "clip": true},
          "encoding": {
            "x": {"field": "lx", "type": "quantitative", "scale": {"type": "linear", "domain": [-5.699, -2.332], "nice": false, "zero": false}, "axis": {"orient": "bottom", "values": [-5, -4, -3], "tickSize": -8, "labelExpr": "'10'", "labelAlign": "right", "labelBaseline": "top", "labelFontSize": 18, "labelPadding": 21, "title": null}},
            "y": {"field": "ly", "type": "quantitative", "scale": {"type": "linear", "domain": [-35, -10], "nice": false, "zero": false}, "axis": {"orient": "left", "values": [-11, -17, -23, -29, -35], "tickSize": 6, "labelExpr": "'10'", "labelAlign": "right", "labelBaseline": "middle", "labelFontSize": 18, "labelPadding": 14, "title": null}},
            "detail": {"field": "id"},
            "color": {"field": "s", "type": "nominal", "legend": null, "scale": {"domain": ["torsional","proposed","nmr","psi","ew_dash","ew_solid","eotwash","sn","eq8","axion","nist","fold","frame"], "range": ["#ff0000","#ff0000","#0000ff","#0000ff","#0000ff","#0000ff","#0000ff","#000000","#000000","#000000","#0000ff","#000000","#000000"]}},
            "strokeDash": {"field": "s", "type": "nominal", "legend": null, "scale": {"domain": ["proposed","nmr","psi","ew_dash","ew_solid","sn","eq8","axion","nist","fold"], "range": [[9,5],[14,7],[1,0],[8,5],[1,0],[1,0],[9,3,2,3],[1,0],[1,0],[1,0]]}},
            "strokeWidth": {"field": "s", "type": "nominal", "legend": null, "scale": {"type": "ordinal", "domain": ["proposed","nmr","psi","ew_dash","ew_solid","sn","eq8","axion","nist","fold"], "range": [4,2.5,2.5,2.5,2.5,1.3,1.2,1.3,1.6,1]}}
          }
        },
        {
          "data": {"name": "curves"},
          "transform": [{"filter": "datum.p == 3 && datum.s == 'torsional'"}],
          "mark": {"type": "line", "strokeCap": "round", "strokeDash": [0.1, 13], "strokeWidth": 3, "color": "#ff0000", "clip": true},
          "encoding": {
            "x": {"field": "lx", "type": "quantitative", "scale": {"type": "linear", "domain": [-5.699, -2.332], "nice": false, "zero": false}, "axis": {"orient": "bottom", "values": [-5, -4, -3], "ticks": false, "domain": false, "labelExpr": "'-' + abs(datum.value)", "labelAlign": "left", "labelBaseline": "top", "labelFontSize": 11, "labelPadding": 8, "title": null}},
            "y": {"field": "ly", "type": "quantitative", "scale": {"type": "linear", "domain": [-35, -10], "nice": false, "zero": false}, "axis": {"orient": "left", "values": [-11, -17, -23, -29, -35], "ticks": false, "domain": false, "labelExpr": "'-' + abs(datum.value)", "labelAlign": "left", "labelBaseline": "middle", "labelFontSize": 11, "labelPadding": 20, "labelOffset": -8, "title": null}}
          }
        },
        {
          "data": {"name": "arrows"},
          "transform": [{"filter": "datum.p == 3"}],
          "mark": {"type": "trail"},
          "encoding": {
            "x": {"field": "lx", "type": "quantitative", "scale": {"type": "linear", "domain": [-5.699, -2.332], "nice": false, "zero": false}, "axis": {"orient": "bottom", "values": [-5.523,-5.398,-5.301,-5.222,-5.155,-5.097,-5.046,-4.699,-4.523,-4.398,-4.301,-4.222,-4.155,-4.097,-4.046,-3.699,-3.523,-3.398,-3.301,-3.222,-3.155,-3.097,-3.046,-2.699,-2.523,-2.398], "tickSize": -4, "labels": false, "domain": false, "title": null}},
            "y": {"field": "ly", "type": "quantitative", "scale": {"type": "linear", "domain": [-35, -10], "nice": false, "zero": false}, "axis": {"orient": "left", "values": [-34,-33,-32,-31,-30,-28,-27,-26,-25,-24,-22,-21,-20,-19,-18,-16,-15,-14,-13,-12], "tickSize": -4, "labels": false, "domain": false, "title": null}},
            "detail": {"field": "id"},
            "color": {"field": "grp", "type": "nominal", "legend": null, "scale": {"domain": ["torsional","proposed","nmr","psi","ew_dash","ew_solid","eotwash","sn","eq8","axion","nist","fold","frame"], "range": ["#ff0000","#ff0000","#0000ff","#0000ff","#0000ff","#0000ff","#0000ff","#000000","#000000","#000000","#0000ff","#000000","#000000"]}},
            "size": {"field": "pt", "type": "nominal", "legend": null, "scale": {"type": "ordinal", "domain": ["note","minor_note","headline","small_headline","formula","script","big_formula","big_script","mid_formula","mid_script","tag","tag_script","small_tag","small_tag_script","title","title_script","axis_title","tail","neck","base","tip"], "range": [16,15,20,13,16,10,20,12,15,9,33,15,24,13,32,20,22,1,1,6.5,0]}}
          }
        },
        {
          "data": {"name": "tags"},
          "transform": [{"filter": "datum.p == 3"}],
          "mark": {"type": "rect", "fill": "white", "stroke": "black", "strokeWidth": 1.2},
          "encoding": {
            "x": {"field": "lx", "type": "quantitative", "scale": {"type": "linear", "domain": [-5.699, -2.332], "nice": false, "zero": false}, "axis": {"orient": "top", "values": [-4.705, -3.705, -2.705], "tickSize": -8, "labels": false, "minExtent": 10, "title": null}},
            "x2": {"field": "lx2"},
            "y": {"field": "ly", "type": "quantitative", "scale": {"type": "linear", "domain": [-35, -10], "nice": false, "zero": false}, "axis": {"orient": "right", "values": [-11, -17, -23, -29, -35], "tickSize": -7, "labels": false, "title": null}},
            "y2": {"field": "ly2"}
          }
        },
        {
          "data": {"name": "notes"},
          "transform": [{"filter": "datum.p == 3"}],
          "mark": {"type": "text", "font": "Liberation Sans", "fontWeight": "bold", "align": "left", "baseline": "middle"},
          "encoding": {
            "x": {"field": "lx", "type": "quantitative", "scale": {"type": "linear", "domain": [-5.699, -2.332], "nice": false, "zero": false}, "axis": {"orient": "top", "values": [-5.659,-5.608,-5.55,-5.483,-5.404,-5.307,-5.182,-5.006,-4.659,-4.608,-4.55,-4.483,-4.404,-4.307,-4.182,-4.006,-3.659,-3.608,-3.55,-3.483,-3.404,-3.307,-3.182,-3.006,-2.659,-2.608,-2.55,-2.483,-2.404], "tickSize": -4, "labels": false, "domain": false, "title": null}},
            "y": {"field": "ly", "type": "quantitative", "scale": {"type": "linear", "domain": [-35, -10], "nice": false, "zero": false}, "axis": null},
            "text": {"field": "txt"},
            "color": {"field": "grp", "type": "nominal", "legend": null, "scale": {"domain": ["torsional","proposed","nmr","psi","ew_dash","ew_solid","eotwash","sn","eq8","axion","nist","fold","frame"], "range": ["#ff0000","#ff0000","#0000ff","#0000ff","#0000ff","#0000ff","#0000ff","#000000","#000000","#000000","#0000ff","#000000","#000000"]}},
            "size": {"field": "role", "type": "nominal", "legend": null, "scale": {"type": "ordinal", "domain": ["note","minor_note","headline","small_headline","formula","script","big_formula","big_script","mid_formula","mid_script","tag","tag_script","small_tag","small_tag_script","title","title_script","axis_title","tail","neck","base","tip"], "range": [16,15,20,13,16,10,20,12,15,9,33,15,24,13,32,20,22,1,1,6.5,0]}}
          }
        },
        {
          "data": {"name": "parts"},
          "transform": [{"filter": "datum.p == 3"}],
          "mark": {"type": "text", "font": "Liberation Sans", "fontWeight": "bold", "fontStyle": "italic", "align": "left", "baseline": "middle"},
          "encoding": {
            "x": {"field": "lx", "type": "quantitative", "scale": {"type": "linear", "domain": [-5.699, -2.332], "nice": false, "zero": false}, "axis": null},
            "y": {"field": "ly", "type": "quantitative", "scale": {"type": "linear", "domain": [-35, -10], "nice": false, "zero": false}, "axis": null},
            "text": {"field": "txt"},
            "color": {"field": "grp", "type": "nominal", "legend": null, "scale": {"domain": ["torsional","proposed","nmr","psi","ew_dash","ew_solid","eotwash","sn","eq8","axion","nist","fold","frame"], "range": ["#ff0000","#ff0000","#0000ff","#0000ff","#0000ff","#0000ff","#0000ff","#000000","#000000","#000000","#0000ff","#000000","#000000"]}},
            "size": {"field": "role", "type": "nominal", "legend": null, "scale": {"type": "ordinal", "domain": ["note","minor_note","headline","small_headline","formula","script","big_formula","big_script","mid_formula","mid_script","tag","tag_script","small_tag","small_tag_script","title","title_script","axis_title","tail","neck","base","tip"], "range": [16,15,20,13,16,10,20,12,15,9,33,15,24,13,32,20,22,1,1,6.5,0]}}
          }
        },
        {
          "data": {"name": "ytitles"},
          "transform": [{"filter": "datum.p == 3"}],
          "mark": {"type": "text", "font": "Liberation Sans", "angle": 270, "align": "left", "baseline": "alphabetic", "color": "#000000"},
          "encoding": {
            "x": {"field": "lx", "type": "quantitative", "scale": {"type": "linear", "domain": [-5.699, -2.332], "nice": false, "zero": false}, "axis": null},
            "y": {"field": "ly", "type": "quantitative", "scale": {"type": "linear", "domain": [-35, -10], "nice": false, "zero": false}, "axis": null},
            "text": {"field": "txt"},
            "size": {"field": "role", "type": "nominal", "legend": null, "scale": {"type": "ordinal", "domain": ["note","minor_note","headline","small_headline","formula","script","big_formula","big_script","mid_formula","mid_script","tag","tag_script","small_tag","small_tag_script","title","title_script","axis_title","tail","neck","base","tip"], "range": [16,15,20,13,16,10,20,12,15,9,33,15,24,13,32,20,22,1,1,6.5,0]}}
          }
        },
        {
          "data": {"name": "titles_roman"},
          "transform": [{"filter": "datum.p == 3"}],
          "mark": {"type": "text", "font": "Liberation Sans", "align": "left", "baseline": "middle", "color": "#000000"},
          "encoding": {
            "x": {"field": "lx", "type": "quantitative", "scale": {"type": "linear", "domain": [-5.699, -2.332], "nice": false, "zero": false}, "axis": null},
            "y": {"field": "ly", "type": "quantitative", "scale": {"type": "linear", "domain": [-35, -10], "nice": false, "zero": false}, "axis": null},
            "text": {"field": "txt"},
            "size": {"field": "role", "type": "nominal", "legend": null, "scale": {"type": "ordinal", "domain": ["note","minor_note","headline","small_headline","formula","script","big_formula","big_script","mid_formula","mid_script","tag","tag_script","small_tag","small_tag_script","title","title_script","axis_title","tail","neck","base","tip"], "range": [16,15,20,13,16,10,20,12,15,9,33,15,24,13,32,20,22,1,1,6.5,0]}}
          }
        },
        {
          "data": {"name": "titles_italic"},
          "transform": [{"filter": "datum.p == 3"}],
          "mark": {"type": "text", "font": "Liberation Sans", "fontStyle": "italic", "align": "left", "baseline": "middle", "color": "#000000"},
          "encoding": {
            "x": {"field": "lx", "type": "quantitative", "scale": {"type": "linear", "domain": [-5.699, -2.332], "nice": false, "zero": false}, "axis": null},
            "y": {"field": "ly", "type": "quantitative", "scale": {"type": "linear", "domain": [-35, -10], "nice": false, "zero": false}, "axis": null},
            "text": {"field": "txt"},
            "size": {"field": "role", "type": "nominal", "legend": null, "scale": {"type": "ordinal", "domain": ["note","minor_note","headline","small_headline","formula","script","big_formula","big_script","mid_formula","mid_script","tag","tag_script","small_tag","small_tag_script","title","title_script","axis_title","tail","neck","base","tip"], "range": [16,15,20,13,16,10,20,12,15,9,33,15,24,13,32,20,22,1,1,6.5,0]}}
          }
        }
      ]
    }
  ]
}
